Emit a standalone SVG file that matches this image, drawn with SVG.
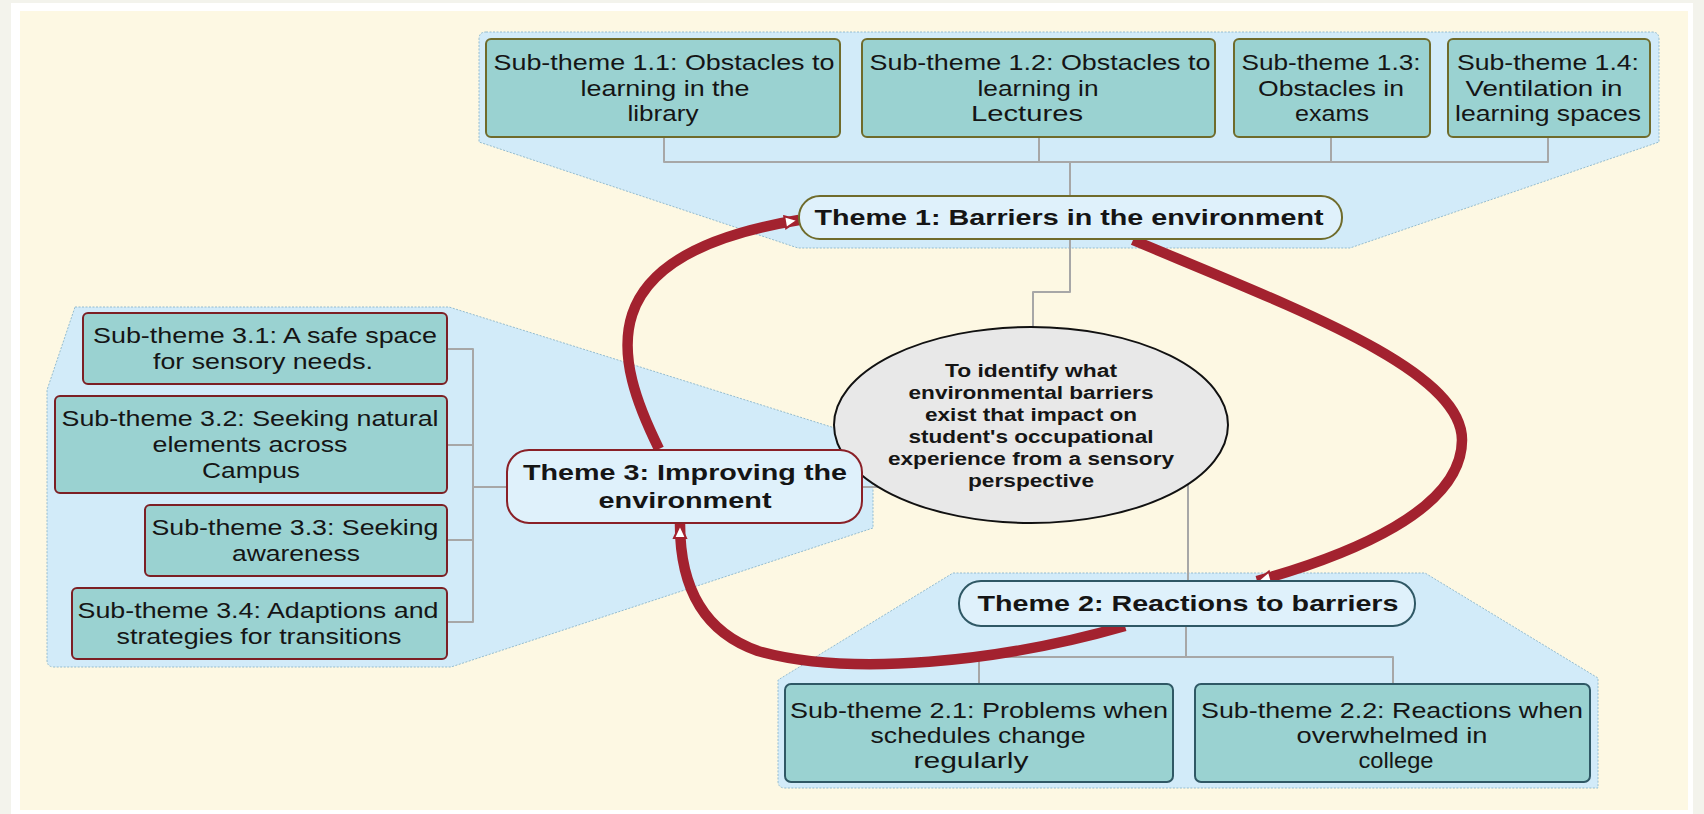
<svg xmlns="http://www.w3.org/2000/svg" width="1704" height="814" viewBox="0 0 1704 814">
<defs>
<style>
text{font-family:"Liberation Sans",Arial,sans-serif;fill:#151515;text-anchor:middle}
.sub{font-size:22px}
.ttl{font-size:22px;font-weight:bold}
.ell{font-size:18px;font-weight:bold}
.panel{fill:#d2ebf9;stroke:#94bccf;stroke-width:1;stroke-dasharray:2 1.5}
.b1{fill:#9ad2d1;stroke:#6f6b2b;stroke-width:2}
.b2{fill:#9ad2d1;stroke:#2f5865;stroke-width:2}
.b3{fill:#9ad2d1;stroke:#7c1f24;stroke-width:2}
.t1{fill:#dff1fb;stroke:#6f6b2b;stroke-width:2}
.t2{fill:#dff1fb;stroke:#2f5865;stroke-width:2}
.t3{fill:#dff1fb;stroke:#8a2027;stroke-width:2}
.con{fill:none;stroke:#a7a7a7;stroke-width:2;stroke-linejoin:round}
.red{fill:none;stroke:#a3222f;stroke-width:10.5;marker-end:url(#ah)}
</style>
<marker id="ah" viewBox="0 -10 20 20" refX="16" refY="0" markerWidth="20" markerHeight="20" markerUnits="userSpaceOnUse" orient="auto">
<path d="M2,-6 L15,0 L2,6 Z" fill="#ffffff" stroke="#a3222f" stroke-width="2"/>
</marker>
</defs>
<rect x="0" y="0" width="1704" height="814" fill="#f3f3ec"/>
<rect x="11" y="3" width="1682" height="811" fill="#ffffff"/>
<rect x="20" y="11" width="1668" height="799" fill="#fdf8e3"/>

<g id="panels">
<path class="panel" d="M486,32 L1652,32 Q1659,32 1659,39 L1659,142 L1350,248 L798,248 L479,142 L479,39 Q479,32 486,32 Z"/>
<path class="panel" d="M75,307 L449,307 L873,440 L873,528 L451,667 L54,667 Q47,667 47,660 L47,390 Z"/>
<path class="panel" d="M953,573 L1425,573 L1598,678 L1598,788 L785,788 Q778,788 778,781 L778,680 Z"/>
</g>

<g id="connectors">
<path class="con" d="M664,137 V162 H1548 V137 M1039,137 V162 M1331,137 V162 M1070,162 V196"/>
<path class="con" d="M1070,239 V292 H1033 V327"/>
<path class="con" d="M1188,484 V581"/>
<path class="con" d="M1186,626 V657 M979,684 V657 H1393 V684"/>
<path class="con" d="M447,349 H473 V622 H447 M447,445 H473 M447,540 H473 M473,487 H507"/>
<path class="con" d="M862,487 H878"/>
<path class="red" d="M1133,240 C1300,310 1462,370 1462,440 C1462,510 1350,555 1257,581"/>
<path class="red" d="M1125,626 C1000,662 850,677 758,651 C698,630 680,580 680,524"/>
<path class="red" d="M659,449 C615,360 585,255 799,220"/>
</g>

<g id="center">
<ellipse cx="1031" cy="425" rx="197" ry="98" fill="#e8e8e8" stroke="#111" stroke-width="2"/>
<text class="ell" x="1031" y="377" textLength="172" lengthAdjust="spacingAndGlyphs">To identify what</text>
<text class="ell" x="1031" y="399" textLength="245" lengthAdjust="spacingAndGlyphs">environmental barriers</text>
<text class="ell" x="1031" y="421" textLength="212" lengthAdjust="spacingAndGlyphs">exist that impact on</text>
<text class="ell" x="1031" y="443" textLength="245" lengthAdjust="spacingAndGlyphs">student's occupational</text>
<text class="ell" x="1031" y="465" textLength="286" lengthAdjust="spacingAndGlyphs">experience from a sensory</text>
<text class="ell" x="1031" y="487" textLength="126" lengthAdjust="spacingAndGlyphs">perspective</text>
</g>

<g id="theme1">
<rect class="t1" x="799" y="196" width="543" height="43" rx="21"/>
<text class="ttl" x="1069" y="225" textLength="509" lengthAdjust="spacingAndGlyphs">Theme 1: Barriers in the environment</text>
</g>
<g id="sub11">
<rect class="b1" x="486" y="39" width="354" height="98" rx="5"/>
<text class="sub" x="664" y="70" textLength="341" lengthAdjust="spacingAndGlyphs">Sub-theme 1.1: Obstacles to</text>
<text class="sub" x="665" y="96" textLength="169" lengthAdjust="spacingAndGlyphs">learning in the</text>
<text class="sub" x="663" y="121" textLength="71" lengthAdjust="spacingAndGlyphs">library</text>
</g>
<g id="sub12">
<rect class="b1" x="862" y="39" width="353" height="98" rx="5"/>
<text class="sub" x="1040" y="70" textLength="341" lengthAdjust="spacingAndGlyphs">Sub-theme 1.2: Obstacles to</text>
<text class="sub" x="1038" y="96" textLength="121" lengthAdjust="spacingAndGlyphs">learning in</text>
<text class="sub" x="1027" y="121" textLength="112" lengthAdjust="spacingAndGlyphs">Lectures</text>
</g>
<g id="sub13">
<rect class="b1" x="1234" y="39" width="196" height="98" rx="5"/>
<text class="sub" x="1331" y="70" textLength="179" lengthAdjust="spacingAndGlyphs">Sub-theme 1.3:</text>
<text class="sub" x="1331" y="96" textLength="146" lengthAdjust="spacingAndGlyphs">Obstacles in</text>
<text class="sub" x="1332" y="121" textLength="74" lengthAdjust="spacingAndGlyphs">exams</text>
</g>
<g id="sub14">
<rect class="b1" x="1448" y="39" width="202" height="98" rx="5"/>
<text class="sub" x="1548" y="70" textLength="182" lengthAdjust="spacingAndGlyphs">Sub-theme 1.4:</text>
<text class="sub" x="1544" y="96" textLength="157" lengthAdjust="spacingAndGlyphs">Ventilation in</text>
<text class="sub" x="1548" y="121" textLength="186" lengthAdjust="spacingAndGlyphs">learning spaces</text>
</g>

<g id="theme3">
<rect class="t3" x="507" y="450" width="355" height="73" rx="22"/>
<text class="ttl" x="685" y="480" textLength="324" lengthAdjust="spacingAndGlyphs">Theme 3: Improving the</text>
<text class="ttl" x="685" y="508" textLength="173" lengthAdjust="spacingAndGlyphs">environment</text>
</g>
<g id="sub31">
<rect class="b3" x="83" y="313" width="364" height="71" rx="5"/>
<text class="sub" x="265" y="343" textLength="344" lengthAdjust="spacingAndGlyphs">Sub-theme 3.1: A safe space</text>
<text class="sub" x="263" y="369" textLength="220" lengthAdjust="spacingAndGlyphs">for sensory needs.</text>
</g>
<g id="sub32">
<rect class="b3" x="55" y="396" width="392" height="97" rx="5"/>
<text class="sub" x="250" y="426" textLength="377" lengthAdjust="spacingAndGlyphs">Sub-theme 3.2: Seeking natural</text>
<text class="sub" x="250" y="452" textLength="195" lengthAdjust="spacingAndGlyphs">elements across</text>
<text class="sub" x="251" y="478" textLength="98" lengthAdjust="spacingAndGlyphs">Campus</text>
</g>
<g id="sub33">
<rect class="b3" x="145" y="505" width="302" height="71" rx="5"/>
<text class="sub" x="295" y="535" textLength="287" lengthAdjust="spacingAndGlyphs">Sub-theme 3.3: Seeking</text>
<text class="sub" x="296" y="561" textLength="128" lengthAdjust="spacingAndGlyphs">awareness</text>
</g>
<g id="sub34">
<rect class="b3" x="72" y="588" width="375" height="71" rx="5"/>
<text class="sub" x="258" y="618" textLength="361" lengthAdjust="spacingAndGlyphs">Sub-theme 3.4: Adaptions and</text>
<text class="sub" x="259" y="644" textLength="285" lengthAdjust="spacingAndGlyphs">strategies for transitions</text>
</g>

<g id="theme2">
<rect class="t2" x="959" y="581" width="456" height="45" rx="22"/>
<text class="ttl" x="1188" y="611" textLength="421" lengthAdjust="spacingAndGlyphs">Theme 2: Reactions to barriers</text>
</g>
<g id="sub21">
<rect class="b2" x="785" y="684" width="388" height="98" rx="6"/>
<text class="sub" x="979" y="718" textLength="378" lengthAdjust="spacingAndGlyphs">Sub-theme 2.1: Problems when</text>
<text class="sub" x="978" y="743" textLength="215" lengthAdjust="spacingAndGlyphs">schedules change</text>
<text class="sub" x="971" y="768" textLength="115" lengthAdjust="spacingAndGlyphs">regularly</text>
</g>
<g id="sub22">
<rect class="b2" x="1195" y="684" width="395" height="98" rx="6"/>
<text class="sub" x="1392" y="718" textLength="382" lengthAdjust="spacingAndGlyphs">Sub-theme 2.2: Reactions when</text>
<text class="sub" x="1392" y="743" textLength="191" lengthAdjust="spacingAndGlyphs">overwhelmed in</text>
<text class="sub" x="1396" y="768" textLength="75" lengthAdjust="spacingAndGlyphs">college</text>
</g>
</svg>
